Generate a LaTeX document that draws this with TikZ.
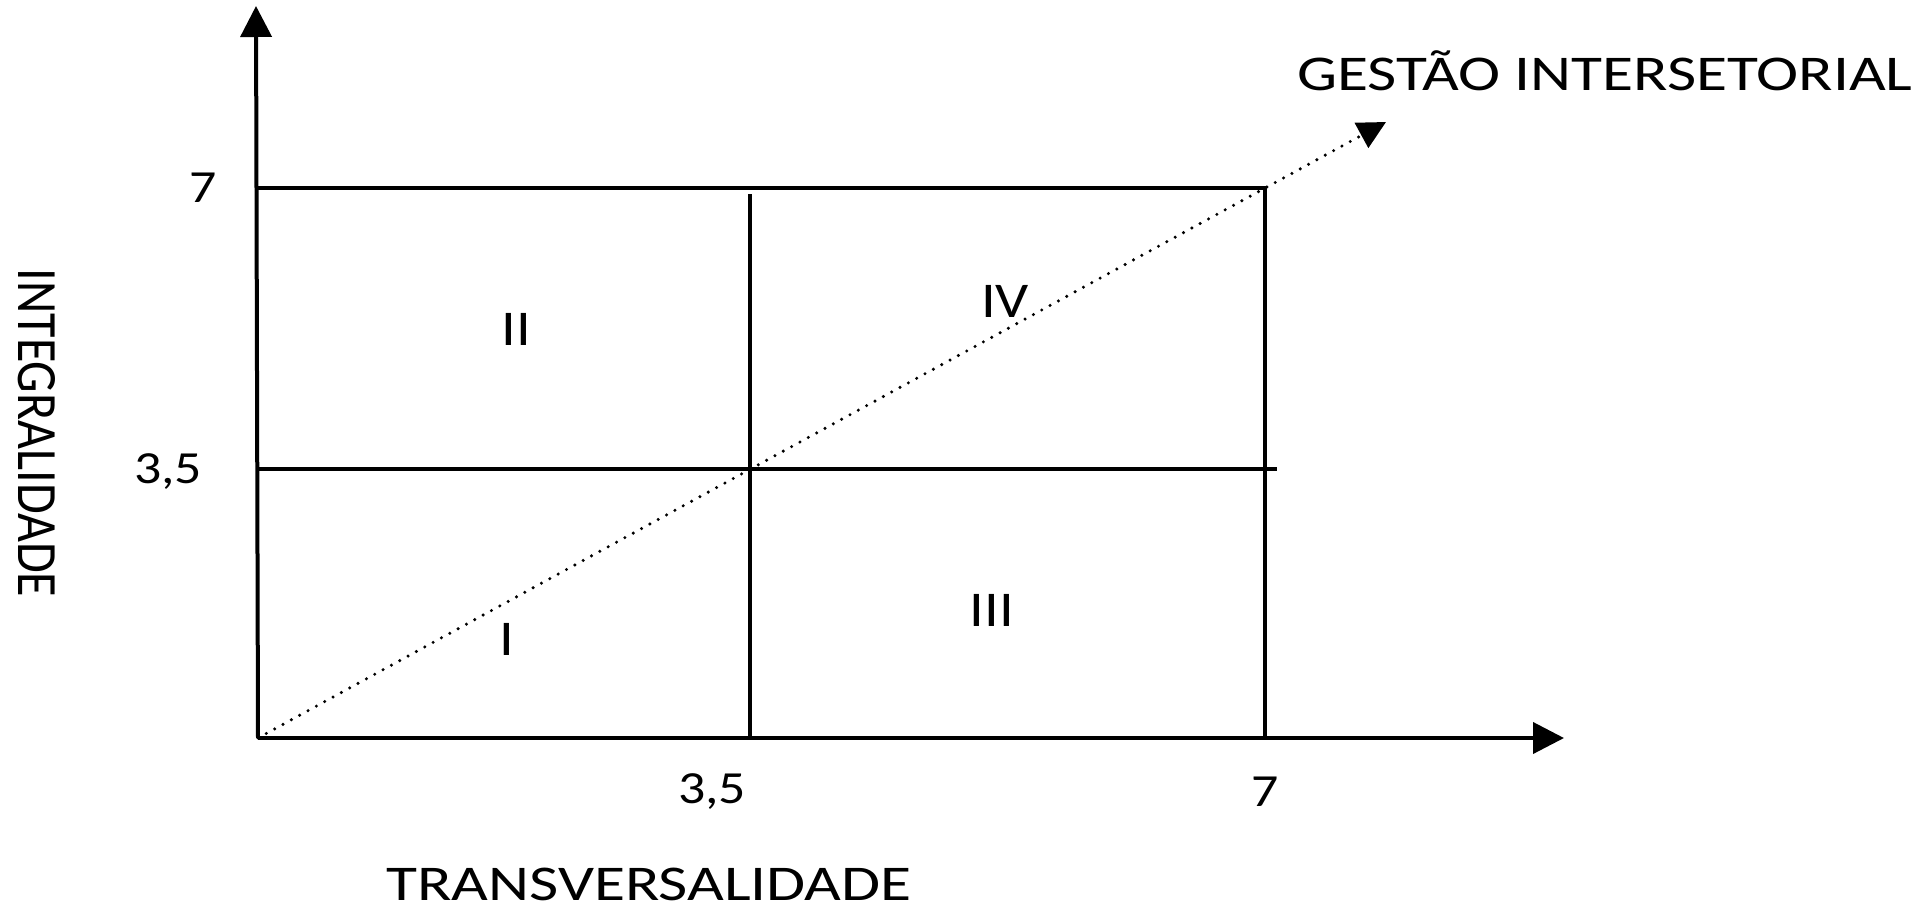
\documentclass[tikz,border=0pt]{standalone}
\usepackage{fontspec}
\usepackage{graphicx}
\setmainfont{Carlito}[FakeStretch=1.17]
\newfontfamily\plainfont{Carlito}
\newfontfamily\titlefont{Carlito}[FakeStretch=1.27]
\usetikzlibrary{arrows.meta}
\begin{document}
\begin{tikzpicture}[x=1pt,y=-1pt,
  axisline/.style={line width=4pt,-{Triangle[length=31pt,width=31pt]}},
  gridline/.style={line width=3.6pt},
  diagline/.style={line width=3.4pt,line cap=round,dash pattern=on 0pt off 9.5pt,-{Triangle[length=28pt,width=28pt]}},
  lbl/.style={font=\fontsize{50}{60}\selectfont,inner sep=0pt},
  ttl/.style={font=\titlefont\fontsize{50}{60}\selectfont,inner sep=0pt},
  num/.style={font=\fontsize{46}{55}\selectfont,inner sep=0pt}]
\useasboundingbox (0,0) rectangle (1926,910);
\coordinate (O) at (258,738);
\coordinate (Ytip) at (256,6);
\coordinate (Xtip) at (1564,738);
\coordinate (TL) at (258,188);
\coordinate (TR) at (1265,188);
\coordinate (BR) at (1265,738);
\coordinate (MVt) at (750,194);
\coordinate (MVb) at (750,738);
\coordinate (MHl) at (258,469);
\coordinate (MHr) at (1277,469);
\coordinate (Dtip) at (1386,122);
% axes
\draw[axisline] (O) -- (Ytip);
\draw[axisline] (O) -- (Xtip);
% grid
\draw[gridline] (TL) -- (TR) -- (BR);
\draw[gridline] (MVt) -- (MVb);
\draw[gridline] (MHl) -- (MHr);
% diagonal
\draw[diagline] (O) -- (Dtip);
% tick labels
\node[num] (y7) at (203,188) {7};
\node[num] (y35) at (168,472) {3,5};
\node[num] (x35) at (712,792) {3,5};
\node[num] (x7) at (1265,792) {7};
% quadrant labels
\node[lbl] (qII) at (516,329) {II};
\node[lbl] (qIV) at (1005,301) {IV};
\node[lbl] (qI) at (507,639) {I};
\node[lbl] (qIII) at (992,610) {III};
% axis titles
\node[ttl] (xt) at (649,884) {TRANSVERSALIDADE};
\node[lbl,rotate=-90] (yt) at (37,433) {\scalebox{1}[1.14]{\plainfont INTEGRALIDADE}};
\node[ttl] (dt) at (1605,71) {GESTÃO INTERSETORIAL};
\end{tikzpicture}
\end{document}
